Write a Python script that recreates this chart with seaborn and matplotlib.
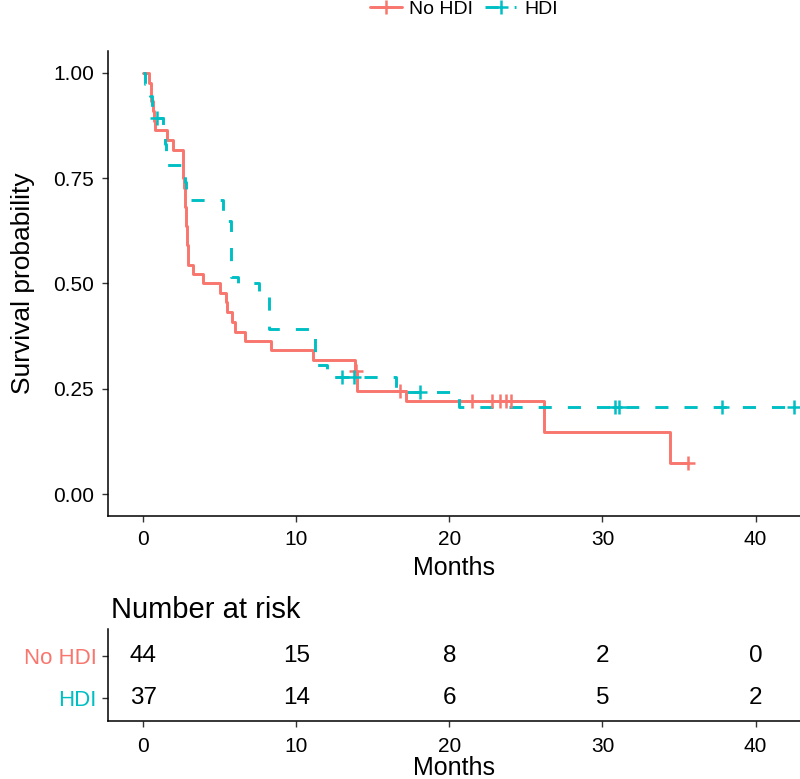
import matplotlib
matplotlib.use("Agg")
import matplotlib.pyplot as plt
from matplotlib.lines import Line2D
import seaborn as sns
import pandas as pd

# Kaplan-Meier step points (months, survival)
nohdi_t = [0, 0.4, 0.5, 0.55, 0.63, 0.72, 0.78, 1.55, 1.98, 2.6, 2.62, 2.64, 2.7, 2.72,
           2.75, 2.78, 2.82, 2.86, 2.9, 2.93, 2.96, 3.25, 3.94, 5.03, 5.42, 5.51, 5.8,
           6.01, 6.67, 8.34, 11.07, 13.85, 14.0, 17.2, 26.2, 34.4, 35.6]
nohdi_s = [1.0, 0.977, 0.955, 0.932, 0.909, 0.886, 0.864, 0.841, 0.818, 0.795, 0.773,
           0.75, 0.727, 0.705, 0.682, 0.659, 0.636, 0.614, 0.591, 0.568, 0.545, 0.523,
           0.5, 0.477, 0.455, 0.432, 0.409, 0.386, 0.364, 0.341, 0.318, 0.293, 0.245,
           0.221, 0.147, 0.074, 0.074]
nohdi_cens_t = [13.9, 16.8, 21.5, 22.8, 23.3, 23.7, 24.0, 35.6]
nohdi_cens_s = [0.293, 0.245, 0.221, 0.221, 0.221, 0.221, 0.221, 0.074]

hdi_t = [0, 0.15, 0.45, 0.6, 0.75, 1.3, 1.4, 1.5, 2.75, 2.8, 5.2, 5.75, 6.2, 7.6,
         8.25, 11.24, 12.0, 16.5, 20.6, 42.5]
hdi_s = [1.0, 0.973, 0.946, 0.919, 0.892, 0.862, 0.832, 0.781, 0.74, 0.698, 0.649,
         0.516, 0.502, 0.47, 0.391, 0.306, 0.279, 0.243, 0.207, 0.207]
hdi_cens_t = [0.9, 12.98, 13.75, 18.1, 30.8, 31.1, 37.8, 42.5]
hdi_cens_s = [0.892, 0.279, 0.279, 0.243, 0.207, 0.207, 0.207, 0.207]

# number at risk table
risk_times = [0, 10, 20, 30, 40]
risk_nohdi = [44, 15, 8, 2, 0]
risk_hdi = [37, 14, 6, 5, 2]

groups = ["No HDI", "HDI"]
colors = {"No HDI": "#F8766D", "HDI": "#00BFC4"}
dash = (0, (4.5, 5.5))
lw = 2.1

sns.set_style("ticks")
plt.rcParams["font.family"] = ["Liberation Sans", "DejaVu Sans"]
plt.rcParams.update({"text.color": "black", "axes.labelcolor": "black",
                     "xtick.color": "#333333", "ytick.color": "#333333",
                     "xtick.labelcolor": "black", "ytick.labelcolor": "black",
                     "axes.edgecolor": "black"})

fig = plt.figure(figsize=(8, 7.79), dpi=100)
ax = fig.add_axes([0.135, 0.3376, 0.865, 0.597])
rax = fig.add_axes([0.135, 0.0748, 0.865, 0.1178])

red = pd.DataFrame({"t": nohdi_t, "s": nohdi_s})
blue = pd.DataFrame({"t": hdi_t, "s": hdi_s})

sns.lineplot(data=red, x="t", y="s", ax=ax, color=colors["No HDI"], lw=lw,
             drawstyle="steps-post", estimator=None, sort=False)
sns.lineplot(data=blue, x="t", y="s", ax=ax, color=colors["HDI"], lw=lw,
             drawstyle="steps-post", estimator=None, sort=False, linestyle=dash)

ax.plot(nohdi_cens_t, nohdi_cens_s, ls="", marker="+", ms=10, mew=1.8,
        color=colors["No HDI"])
ax.plot(hdi_cens_t, hdi_cens_s, ls="", marker="+", ms=10, mew=1.8,
        color=colors["HDI"])

ax.set_xlim(-2.29, 42.9)
ax.set_ylim(-0.052, 1.052)
ax.set_xticks([0, 10, 20, 30, 40])
ax.set_yticks([0, 0.25, 0.5, 0.75, 1.0])
ax.set_yticklabels(["0.00", "0.25", "0.50", "0.75", "1.00"])
ax.set_xlabel("Months", fontsize=18, labelpad=5)
ax.set_ylabel("Survival probability", fontsize=19, labelpad=13)
ax.tick_params(labelsize=15, length=4, width=1, pad=6)
sns.despine(ax=ax)
for sp in ["left", "bottom"]:
    ax.spines[sp].set_linewidth(1.1)

# risk table
rax.set_xlim(-2.29, 42.9)
rax.set_ylim(-0.55, 1.65)
for i, t in enumerate(risk_times):
    rax.text(t, 1, str(risk_nohdi[i]), ha="center", va="center", fontsize=17.5)
    rax.text(t, 0, str(risk_hdi[i]), ha="center", va="center", fontsize=17.5)
rax.set_yticks([1, 0])
rax.set_yticklabels(groups)
for lab, g in zip(rax.get_yticklabels(), groups):
    lab.set_color(colors[g])
    lab.set_fontsize(16)
rax.set_xticks(risk_times)
rax.tick_params(axis="x", labelsize=15, length=4, width=1, pad=8)
rax.tick_params(axis="y", length=4, width=1, pad=4)
rax.set_xlabel("Months", fontsize=18, labelpad=0)
rax.set_title("Number at risk", fontsize=21, loc="left", pad=8, x=0.005)
sns.despine(ax=rax)
for sp in ["left", "bottom"]:
    rax.spines[sp].set_linewidth(1.1)

# legend at top
handles = [Line2D([0], [0], color=colors[g], lw=lw, marker="+", ms=10, mew=1.8,
                  linestyle="-" if g == "No HDI" else dash) for g in groups]
fig.legend(handles, groups, loc="center", bbox_to_anchor=(0.58, 1 - 9 / 779),
           ncol=2, frameon=False, fontsize=14, handlelength=1.6,
           columnspacing=0.6, handletextpad=0.4)

fig.savefig("out.png", dpi=100)
